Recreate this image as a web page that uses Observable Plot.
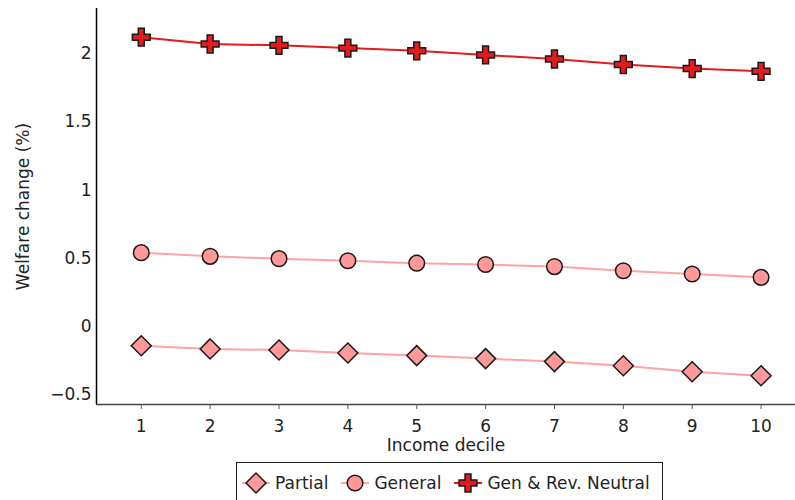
<!DOCTYPE html>
<html><head><meta charset="utf-8">
<script src="https://cdn.jsdelivr.net/npm/d3@7"></script>
<script src="https://cdn.jsdelivr.net/npm/@observablehq/plot@0.6"></script>
<style>
body{margin:0;background:#fff;font-family:"DejaVu Sans",Verdana,sans-serif;}
#wrap{position:relative;width:795px;height:500px;overflow:hidden;}
#legend{position:absolute;left:236px;top:462px;width:427px;height:50px;border:1.5px solid #1a1a1a;box-sizing:border-box;display:flex;align-items:flex-start;padding-top:8px;padding-left:3px;font-size:17px;color:#222;}
#legend .item{display:flex;align-items:center;margin-right:11px;}
#legend svg{margin-right:3px;}
</style></head><body><div id="wrap"></div>
<script>
const deciles = [1, 2, 3, 4, 5, 6, 7, 8, 9, 10];
const seriesNames = ["Partial", "General", "Gen & Rev. Neutral"];
const partial = [-0.14, -0.163, -0.171, -0.193, -0.212, -0.234, -0.256, -0.286, -0.33, -0.359];
const general = [0.542, 0.515, 0.498, 0.483, 0.465, 0.455, 0.44, 0.41, 0.386, 0.361];
const genRev = [2.12, 2.07, 2.06, 2.04, 2.02, 1.99, 1.96, 1.92, 1.89, 1.87];
const yTicks = [-0.5, 0, 0.5, 1, 1.5, 2];
const yTickLabels = ["\u22120.5", "0", "0.5", "1", "1.5", "2"];
const xLabel = "Income decile";
const yLabel = "Welfare change (%)";

const valuesBySeries = [partial, general, genRev];
const rows = seriesNames.flatMap((s, k) => deciles.map((d, i) => ({series: s, decile: d, value: valuesBySeries[k][i]})));

const styles = {
  "Partial": {symbol: "diamond2", r: 9, fill: "#ff9999", line: "#ffa3a3"},
  "General": {symbol: "circle", r: 7.8, fill: "#ff9999", line: "#ffa3a3"},
  "Gen & Rev. Neutral": {symbol: "cross", r: 7.5, fill: "#e41a1c", line: "#e41a1c"}
};

const xDom = [0.35, 10.5], yDom = [-0.57, 2.33];
const marks = [
  Plot.ruleY([yDom[0]], {stroke: "#444", strokeWidth: 1.5}),
  Plot.ruleX([xDom[0]], {stroke: "#000", strokeWidth: 1.5}),
  Plot.axisX({ticks: deciles, tickSize: 5, tickPadding: 10, label: null, stroke: "#555", fill: "#222"}),
  Plot.axisY({ticks: yTicks, tickFormat: d => yTickLabels[yTicks.indexOf(d)], tickSize: 0, tickPadding: 5, label: null, fill: "#222"}),
  Plot.text([xLabel], {frameAnchor: "bottom", dy: 46, textAnchor: "middle", fill: "#222"}),
  Plot.text([yLabel], {frameAnchor: "left", dx: -73, rotate: -90, textAnchor: "middle", fill: "#222"})
];
for (const s of seriesNames) {
  const st = styles[s];
  const d = rows.filter(r => r.series === s);
  marks.push(Plot.line(d, {x: "decile", y: "value", stroke: st.line, strokeWidth: 2}));
}
for (const s of seriesNames) {
  const st = styles[s];
  const d = rows.filter(r => r.series === s);
  marks.push(Plot.dot(d, {x: "decile", y: "value", symbol: st.symbol, r: st.r, fill: st.fill, fillOpacity: 1, stroke: "#1a1a1a", strokeWidth: 1.5}));
}

const chart = Plot.plot({
  width: 795, height: 460,
  marginTop: 8, marginBottom: 56, marginLeft: 96, marginRight: 0,
  style: {fontFamily: "'DejaVu Sans', Verdana, sans-serif", fontSize: "17px", background: "#fff", overflow: "visible"},
  x: {domain: xDom, label: null},
  y: {domain: yDom, label: null},
  marks
});
const wrap = document.getElementById("wrap");
wrap.appendChild(chart);

// legend
const legend = document.createElement("div");
legend.id = "legend";
const symMap = {diamond2: d3.symbolDiamond2, circle: d3.symbolCircle, cross: d3.symbolCross};
for (const s of seriesNames) {
  const st = styles[s];
  const item = document.createElement("div");
  item.className = "item";
  const svg = d3.create("svg").attr("width", 32).attr("height", 24);
  svg.append("line").attr("x1", 2).attr("x2", 30).attr("y1", 12).attr("y2", 12).attr("stroke", st.line).attr("stroke-width", 2);
  svg.append("path").attr("transform", "translate(16,12)")
    .attr("d", d3.symbol(symMap[st.symbol], Math.PI * st.r * st.r)())
    .attr("fill", st.fill).attr("stroke", "#1a1a1a").attr("stroke-width", 1.5);
  item.appendChild(svg.node());
  const span = document.createElement("span");
  span.textContent = s;
  item.appendChild(span);
  legend.appendChild(item);
}
wrap.appendChild(legend);
</script>
</body></html>
